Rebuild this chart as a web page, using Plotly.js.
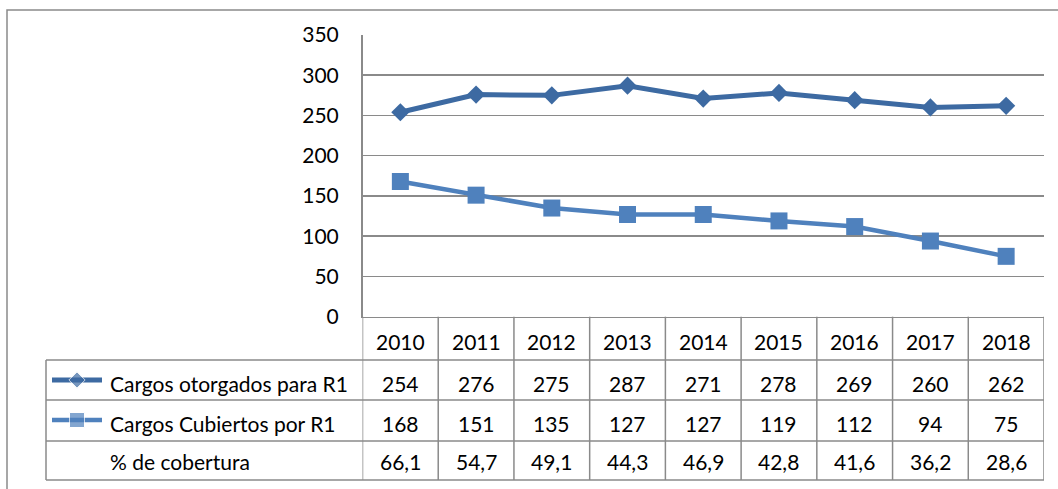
<!DOCTYPE html>
<html>
<head>
<meta charset="utf-8">
<script src="https://cdn.plot.ly/plotly-3.0.1.min.js"></script>
<style>
  html, body { margin: 0; padding: 0; background: #fff; }
  #chart { width: 1058px; height: 489px; }
</style>
</head>
<body>
<div id="chart"></div>
<script>
// data
var years = ['2010', '2011', '2012', '2013', '2014', '2015', '2016', '2017', '2018'];
var otorgados = [254, 276, 275, 287, 271, 278, 269, 260, 262];
var cubiertos = [168, 151, 135, 127, 127, 119, 112, 94, 75];
var cobertura = [66.1, 54.7, 49.1, 44.3, 46.9, 42.8, 41.6, 36.2, 28.6];
var rowNames = ['Cargos otorgados para R1', 'Cargos Cubiertos por R1', '% de cobertura'];

var W = 1058, H = 489;
var FONT = 'Lato, "Open Sans", sans-serif';
var c1 = '#3d6aa2';
var c2 = '#4f81bd';
var gridCol = '#8a8a8a';

// pixel -> paper helpers (margins are zero, so paper == page)
function px(x) { return x / W; }
function py(y) { return 1 - y / H; }

// layout of the plot area / table (pixels)
var plotL = 362.5, plotR = 1044, plotT = 35, plotB = 316.7;
var tableL = 46;
var rowLines = [360, 400, 441, 480];
var textY = [341, 383.5, 423.5, 461.5];

var idx = years.map(function (y, i) { return i; });

var traces = [
    {
        type: 'scatter', mode: 'lines+markers', x: idx, y: otorgados,
        line: {color: c1, width: 5},
        marker: {symbol: 'diamond', size: 14, color: c1},
        name: rowNames[0], hoverinfo: 'y', cliponaxis: false
    },
    {
        type: 'scatter', mode: 'lines+markers', x: idx, y: cubiertos,
        line: {color: c2, width: 4.5},
        marker: {symbol: 'square', size: 17, color: c2},
        name: rowNames[1], hoverinfo: 'y', cliponaxis: false
    },
    // legend keys drawn inside the table (second, pixel-scaled subplot)
    {
        type: 'scatter', mode: 'lines+markers', xaxis: 'x2', yaxis: 'y2',
        x: [52, 77, 102], y: [380, 380, 380],
        line: {color: c1, width: 5},
        marker: {symbol: 'diamond', size: [0, 12.5, 0], color: c1},
        hoverinfo: 'skip', cliponaxis: false
    },
    {
        type: 'scatter', mode: 'lines+markers', xaxis: 'x2', yaxis: 'y2',
        x: [52, 77, 102], y: [420, 420, 420],
        line: {color: c2, width: 4.5},
        marker: {symbol: 'square', size: [0, 15, 0], color: c2},
        hoverinfo: 'skip', cliponaxis: false
    }
];

var shapes = [];
var annotations = [];

// outer chart frame
shapes.push({type: 'rect', xref: 'paper', yref: 'paper',
    x0: px(7), x1: px(1090), y0: py(10), y1: py(520),
    line: {color: gridCol, width: 1.5}});

// table horizontal lines
rowLines.forEach(function (y) {
    shapes.push({type: 'line', xref: 'paper', yref: 'paper',
        x0: px(tableL), x1: px(plotR), y0: py(y), y1: py(y),
        line: {color: gridCol, width: 1.5}});
});
// label column left edge
shapes.push({type: 'line', xref: 'paper', yref: 'paper',
    x0: px(tableL), x1: px(tableL), y0: py(rowLines[0]), y1: py(rowLines[3]),
    line: {color: gridCol, width: 1.5}});
// column separators at category boundaries
for (var i = 0; i <= years.length; i++) {
    shapes.push({type: 'line', xref: 'x', yref: 'paper',
        x0: i - 0.5, x1: i - 0.5, y0: py(plotB), y1: py(rowLines[3]),
        line: {color: gridCol, width: 1.5}});
}

function cell(text, x, y) {
    annotations.push({text: text, xref: 'x', yref: 'paper', x: x, y: y,
        xanchor: 'center', yanchor: 'middle', showarrow: false,
        font: {family: FONT, size: 21, color: '#000'}});
}

years.forEach(function (yr, i) {
    cell(yr, i, py(textY[0]));
    cell(String(otorgados[i]), i, py(textY[1]));
    cell(String(cubiertos[i]), i, py(textY[2]));
    cell(cobertura[i].toFixed(1).replace('.', ','), i, py(textY[3]));
});

rowNames.forEach(function (name, r) {
    annotations.push({text: name, xref: 'paper', yref: 'paper',
        x: px(108), y: py(textY[r + 1]), xanchor: 'left', yanchor: 'middle',
        showarrow: false, font: {family: FONT, size: 21, color: '#000'}});
});

var layout = {
    width: W,
    height: H,
    margin: {l: 0, r: 0, t: 0, b: 0, pad: 0},
    paper_bgcolor: '#ffffff',
    plot_bgcolor: 'rgba(0,0,0,0)',
    showlegend: false,
    font: {family: FONT, size: 21, color: '#000'},
    xaxis: {
        domain: [px(plotL), px(plotR)],
        range: [-0.5, years.length - 0.5],
        showgrid: false, zeroline: false,
        showline: true, linecolor: gridCol, linewidth: 1.5,
        showticklabels: false, ticks: '', fixedrange: true
    },
    yaxis: {
        domain: [py(plotB), py(plotT)],
        range: [0, 350], dtick: 50, tick0: 0,
        showgrid: true, gridcolor: gridCol, gridwidth: 1.5,
        zeroline: false, showline: true, linecolor: gridCol, linewidth: 1.5,
        ticks: '', ticklabelstandoff: 18,
        tickfont: {family: FONT, size: 21, color: '#000'}, fixedrange: true
    },
    xaxis2: {
        domain: [0, px(340)], range: [0, 340], anchor: 'y2',
        visible: false, fixedrange: true
    },
    yaxis2: {
        domain: [py(rowLines[2]), py(rowLines[0])], range: [rowLines[2], rowLines[0]],
        anchor: 'x2', visible: false, fixedrange: true
    },
    shapes: shapes,
    annotations: annotations
};

Plotly.newPlot('chart', traces, layout, {displayModeBar: false, staticPlot: true});
</script>
</body>
</html>
